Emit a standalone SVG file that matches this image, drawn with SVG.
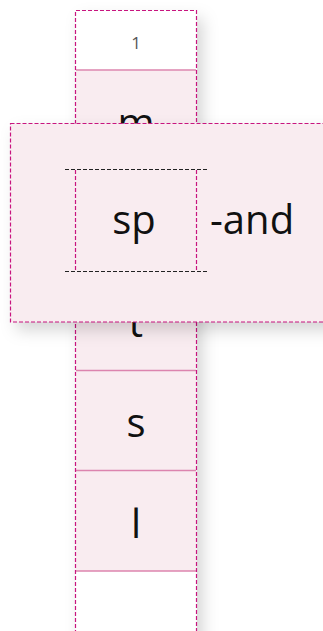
<svg xmlns="http://www.w3.org/2000/svg" width="323" height="631" viewBox="0 0 323 631">
<style>
.dash{fill:none;stroke:#c8157f;stroke-width:1.2;stroke-dasharray:4 2}
.blk{fill:none;stroke:#222;stroke-width:1.2;stroke-dasharray:4 2}
.div{stroke:#dc84ae;stroke-width:1.5}
.t{font-family:"Open Sans","Noto Sans",sans-serif;font-size:40px;fill:#111}
.n{font-family:"Open Sans","Noto Sans",sans-serif;font-size:17px;fill:#555}
</style>
<defs>
<filter id="sh" x="-50%" y="-20%" width="200%" height="140%">
<feDropShadow dx="6" dy="8" stdDeviation="8" flood-color="#000" flood-opacity="0.17"/>
</filter>
</defs>
<g id="column">
<rect x="75.5" y="10.5" width="121" height="640" fill="#f9ecf0" filter="url(#sh)"/>
<rect x="75.5" y="10.5" width="121" height="60" fill="#ffffff"/>
<rect x="75.5" y="571" width="121" height="70" fill="#ffffff"/>
<line class="div" x1="76" y1="70" x2="196" y2="70"/>
<line class="div" x1="76" y1="170" x2="196" y2="170"/>
<line class="div" x1="76" y1="270" x2="196" y2="270"/>
<line class="div" x1="76" y1="370.5" x2="196" y2="370.5"/>
<line class="div" x1="76" y1="470.5" x2="196" y2="470.5"/>
<line class="div" x1="76" y1="571" x2="196" y2="571"/>
<path class="dash" d="M75.5 640 V10.5 H196.5 V640"/>
<text class="n" x="136" y="49" text-anchor="middle">1</text>
<text class="t" x="136" y="137" text-anchor="middle">m</text>
<text class="t" x="136" y="337" text-anchor="middle">t</text>
<text class="t" x="136" y="437" text-anchor="middle">s</text>
<text class="t" x="136" y="538" text-anchor="middle">l</text>
</g>
<g id="overlay">
<rect x="10.5" y="123.5" width="330" height="198.5" fill="#f9ecf0" filter="url(#sh)"/>
<rect class="dash" x="10.5" y="123.5" width="330" height="198.5"/>
</g>
<g id="inner">
<line class="blk" x1="65" y1="169.5" x2="208" y2="169.5"/>
<line class="blk" x1="65" y1="271.5" x2="208" y2="271.5"/>
<line class="dash" x1="75.5" y1="170" x2="75.5" y2="271"/>
<line class="dash" x1="196.5" y1="170" x2="196.5" y2="271"/>
<text class="t" x="134" y="234" text-anchor="middle">sp</text>
<text class="t" x="210" y="234">-and</text>
</g>
</svg>
